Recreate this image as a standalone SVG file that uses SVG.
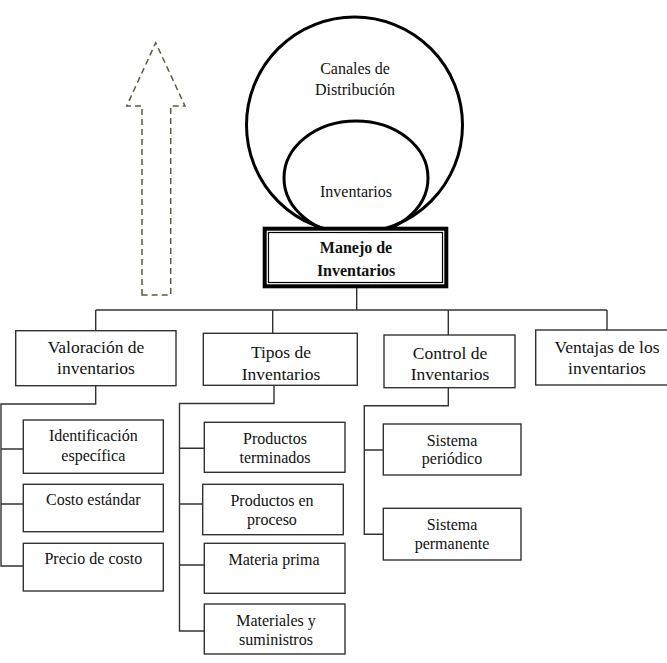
<svg xmlns="http://www.w3.org/2000/svg" width="667" height="663" viewBox="0 0 667 663">
  <style>
    text { font-family: "Liberation Serif", "Times New Roman", serif; fill: #111; text-anchor: middle; }
    .t1 { font-size: 16px; }
    .t2 { font-size: 17.5px; }
    .t3 { font-size: 16px; }
    .bold { font-weight: bold; }
    .box { fill: #fff; stroke: #333; stroke-width: 1.4; }
    .ring { fill: none; stroke: #000; stroke-width: 3; }
    .wire { fill: none; stroke: #333; stroke-width: 1.4; }
    .dashed { fill: none; stroke: #5c5c3c; stroke-width: 1.5; stroke-dasharray: 6 4; }
  </style>

  <!-- dashed upward arrow -->
  <g id="arrow">
    <path class="dashed" d="M142 295 V106 H126.7 L155.7 42.7 L185 106 H170.7 V295 Z"/>
  </g>

  <!-- nested circles above the root -->
  <g id="canales">
    <circle class="ring" cx="354.5" cy="125" r="108"/>
    <text class="t1" x="355" y="73.5">Canales de</text>
    <text class="t1" x="355" y="94.5">Distribución</text>
  </g>
  <g id="inventarios-circle">
    <ellipse class="ring" cx="356" cy="178" rx="72" ry="57"/>
    <text class="t1" x="356" y="196.5">Inventarios</text>
  </g>

  <!-- connectors -->
  <g id="connectors">
    <path class="wire" d="M356.7 288 V310"/>
    <path class="wire" d="M95.7 310 H607"/>
    <path class="wire" d="M95.7 310 V331 M272.7 310 V333.3 M448.3 310 V335 M607 310 V330"/>
    <!-- Valoración branch -->
    <path class="wire" d="M95.7 386 V404 H1 V566 H23.3 M1 449 H23.3 M1 504 H23.3"/>
    <!-- Tipos branch -->
    <path class="wire" d="M274 385 V403.5 H179.5 V631 H204.3 M179.5 448.3 H204.3 M179.5 504 H202.7 M179.5 565 H204.3"/>
    <!-- Control branch -->
    <path class="wire" d="M448.3 388 V405.7 H364.3 V534.3 H383.3 M364.3 450 H383.3"/>
  </g>

  <!-- root -->
  <g id="manejo">
    <rect x="264.7" y="228.7" width="181.6" height="57.6" fill="#fff" stroke="#000" stroke-width="4"/>
    <rect x="268.5" y="232.5" width="174" height="50" fill="none" stroke="#000" stroke-width="1.2"/>
    <text class="t1 bold" x="356" y="253">Manejo de</text>
    <text class="t1 bold" x="356" y="276">Inventarios</text>
  </g>

  <!-- second level -->
  <g id="valoracion">
    <rect class="box" x="15.7" y="330.7" width="160.3" height="55"/>
    <text class="t2" x="96" y="353">Valoración de</text>
    <text class="t2" x="96" y="374">inventarios</text>
  </g>
  <g id="tipos">
    <rect class="box" x="203.3" y="333.3" width="154" height="52"/>
    <text class="t2" x="281" y="358">Tipos de</text>
    <text class="t2" x="281" y="379.5">Inventarios</text>
  </g>
  <g id="control">
    <rect class="box" x="384" y="335" width="131" height="52.7"/>
    <text class="t2" x="450" y="358.5">Control de</text>
    <text class="t2" x="450" y="380">Inventarios</text>
  </g>
  <g id="ventajas">
    <rect class="box" x="535.7" y="330" width="150" height="55"/>
    <text class="t2" x="607" y="353">Ventajas de los</text>
    <text class="t2" x="607" y="374">inventarios</text>
  </g>

  <!-- valuation methods -->
  <g id="identificacion">
    <rect class="box" x="23.3" y="420" width="140" height="53.3"/>
    <text class="t3" x="93.3" y="440.5">Identificación</text>
    <text class="t3" x="93.3" y="460.5">específica</text>
  </g>
  <g id="costo-estandar">
    <rect class="box" x="23.3" y="484.3" width="140" height="47.4"/>
    <text class="t3" x="93.3" y="505">Costo estándar</text>
  </g>
  <g id="precio-costo">
    <rect class="box" x="23.3" y="543.3" width="140" height="47.7"/>
    <text class="t3" x="93.3" y="564">Precio de costo</text>
  </g>

  <!-- inventory types -->
  <g id="terminados">
    <rect class="box" x="204.3" y="422.3" width="140.7" height="50"/>
    <text class="t3" x="275" y="444">Productos</text>
    <text class="t3" x="275" y="463">terminados</text>
  </g>
  <g id="en-proceso">
    <rect class="box" x="202.7" y="484.3" width="140.6" height="50.4"/>
    <text class="t3" x="272" y="506">Productos en</text>
    <text class="t3" x="272" y="525">proceso</text>
  </g>
  <g id="materia-prima">
    <rect class="box" x="204.3" y="543.3" width="140.7" height="50"/>
    <text class="t3" x="274" y="565">Materia prima</text>
  </g>
  <g id="materiales">
    <rect class="box" x="204.3" y="604" width="140.7" height="50"/>
    <text class="t3" x="276" y="626">Materiales y</text>
    <text class="t3" x="276" y="644.5">suministros</text>
  </g>

  <!-- control systems -->
  <g id="periodico">
    <rect class="box" x="383.3" y="424" width="137.7" height="51"/>
    <text class="t3" x="452" y="445.7">Sistema</text>
    <text class="t3" x="452" y="464">periódico</text>
  </g>
  <g id="permanente">
    <rect class="box" x="383.3" y="508.3" width="137.7" height="51.7"/>
    <text class="t3" x="452" y="530">Sistema</text>
    <text class="t3" x="452" y="549">permanente</text>
  </g>
</svg>
